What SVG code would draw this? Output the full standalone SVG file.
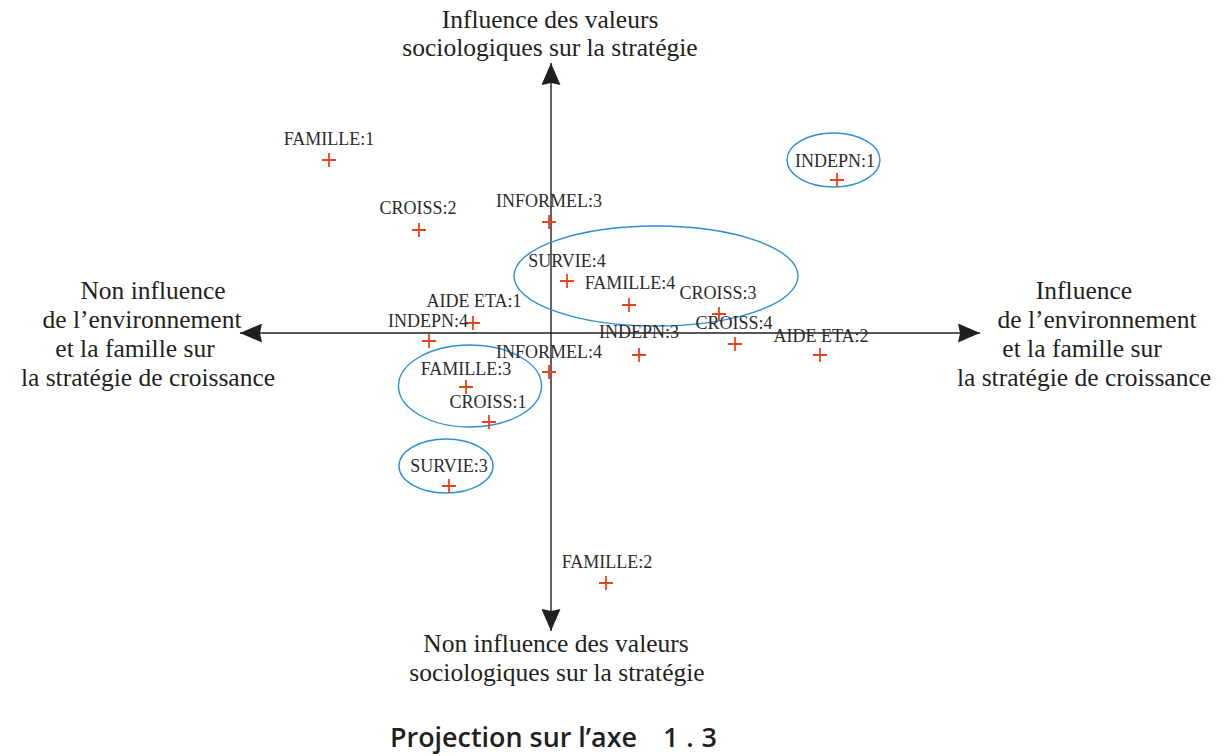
<svg xmlns="http://www.w3.org/2000/svg" width="1229" height="756" viewBox="0 0 1229 756">
  <style>
    .axis { stroke: #231f20; stroke-width: 1.4; fill: none; }
    .cross { stroke: #e8441c; stroke-width: 1.8; fill: none; }
    .grp { stroke: #2e8fd6; stroke-width: 1.4; fill: none; }
    .lbl { font-family: "Liberation Serif", "Times New Roman", serif; font-size: 18px; fill: #2b2b2b; text-anchor: middle; }
    .ax { font-family: "Liberation Serif", "Times New Roman", serif; font-size: 25.5px; fill: #231f20; text-anchor: middle; }
    .title { font-family: "Open Sans", "DejaVu Sans", sans-serif; font-size: 27px; font-weight: 600; fill: #231f20; }
  </style>
  <defs>
    <marker id="arrow" viewBox="0 0 22 19" refX="22" refY="9.5" markerWidth="22" markerHeight="19" markerUnits="userSpaceOnUse" orient="auto-start-reverse">
      <path d="M0,0 L22,9.5 L0,19 L2,9.5 z" fill="#231f20"/>
    </marker>
    <path id="plus" d="M-7,0 H7 M0,-7 V7"/>
  </defs>
  <rect width="1229" height="756" fill="#ffffff"/>

  <!-- axes -->
  <g id="connectors">
    <line class="axis" x1="240" y1="333" x2="980" y2="333" marker-start="url(#arrow)" marker-end="url(#arrow)"/>
    <line class="axis" x1="551" y1="63" x2="551" y2="631" marker-start="url(#arrow)" marker-end="url(#arrow)"/>
  </g>

  <!-- axis captions -->
  <g id="axis-top">
    <text class="ax" x="550" y="28">Influence des valeurs</text>
    <text class="ax" x="550" y="56">sociologiques sur la stratégie</text>
  </g>
  <g id="axis-bottom">
    <text class="ax" x="556" y="652">Non influence des valeurs</text>
    <text class="ax" x="557" y="681">sociologiques sur la stratégie</text>
  </g>
  <g id="axis-left">
    <text class="ax" x="153" y="299">Non influence</text>
    <text class="ax" x="142" y="328">de l’environnement</text>
    <text class="ax" x="135" y="357">et la famille sur</text>
    <text class="ax" x="148" y="386">la stratégie de croissance</text>
  </g>
  <g id="axis-right">
    <text class="ax" x="1084" y="299">Influence</text>
    <text class="ax" x="1097" y="328">de l’environnement</text>
    <text class="ax" x="1082" y="357">et la famille sur</text>
    <text class="ax" x="1084" y="386">la stratégie de croissance</text>
  </g>

  <!-- groupings -->
  <g id="group-indepn1"><ellipse class="grp" cx="833.5" cy="160" rx="46.5" ry="27"/></g>
  <g id="group-centre"><ellipse class="grp" cx="656" cy="276" rx="142" ry="50"/></g>
  <g id="group-famille3"><ellipse class="grp" cx="470" cy="386" rx="71.5" ry="41"/></g>
  <g id="group-survie3"><ellipse class="grp" cx="446" cy="466" rx="47" ry="27"/></g>

  <!-- modalities -->
  <g id="famille1"><use href="#plus" class="cross" x="329" y="160"/><text class="lbl" x="329" y="145">FAMILLE:1</text></g>
  <g id="croiss2"><use href="#plus" class="cross" x="419" y="230"/><text class="lbl" x="418" y="214">CROISS:2</text></g>
  <g id="informel3"><use href="#plus" class="cross" x="549" y="222"/><text class="lbl" x="549" y="207">INFORMEL:3</text></g>
  <g id="indepn1"><use href="#plus" class="cross" x="837" y="180"/><text class="lbl" x="835" y="167">INDEPN:1</text></g>
  <g id="survie4"><use href="#plus" class="cross" x="567" y="281"/><text class="lbl" x="567" y="267">SURVIE:4</text></g>
  <g id="famille4"><use href="#plus" class="cross" x="629" y="305"/><text class="lbl" x="630" y="289">FAMILLE:4</text></g>
  <g id="croiss3"><use href="#plus" class="cross" x="719" y="314"/><text class="lbl" x="718" y="299">CROISS:3</text></g>
  <g id="aideeta1"><use href="#plus" class="cross" x="473" y="323"/><text class="lbl" x="474" y="307">AIDE ETA:1</text></g>
  <g id="indepn4"><use href="#plus" class="cross" x="429" y="341"/><text class="lbl" x="428" y="327">INDEPN:4</text></g>
  <g id="croiss4"><use href="#plus" class="cross" x="735" y="344"/><text class="lbl" x="734" y="329">CROISS:4</text></g>
  <g id="indepn3"><use href="#plus" class="cross" x="639" y="355"/><text class="lbl" x="639" y="338">INDEPN:3</text></g>
  <g id="aideeta2"><use href="#plus" class="cross" x="820" y="355"/><text class="lbl" x="821" y="342">AIDE ETA:2</text></g>
  <g id="informel4"><use href="#plus" class="cross" x="549" y="372"/><text class="lbl" x="549" y="358">INFORMEL:4</text></g>
  <g id="famille3"><use href="#plus" class="cross" x="466" y="387"/><text class="lbl" x="466" y="375">FAMILLE:3</text></g>
  <g id="croiss1"><use href="#plus" class="cross" x="489" y="422"/><text class="lbl" x="488" y="408">CROISS:1</text></g>
  <g id="survie3"><use href="#plus" class="cross" x="449" y="486"/><text class="lbl" x="449" y="472">SURVIE:3</text></g>
  <g id="famille2"><use href="#plus" class="cross" x="606" y="583"/><text class="lbl" x="607" y="568">FAMILLE:2</text></g>

  <!-- caption -->
  <g id="caption">
    <text class="title" x="390" y="747" textLength="247" lengthAdjust="spacingAndGlyphs">Projection sur l’axe</text>
    <text class="title" x="663" y="747" font-size="21" textLength="54" lengthAdjust="spacing">1.3</text>
  </g>
</svg>
